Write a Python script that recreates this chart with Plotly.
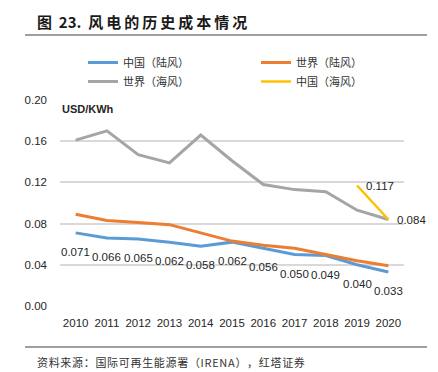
import plotly.graph_objects as go

years = [2010, 2011, 2012, 2013, 2014, 2015, 2016, 2017, 2018, 2019, 2020]
china_onshore = [0.071, 0.066, 0.065, 0.062, 0.058, 0.062, 0.056, 0.050, 0.049, 0.040, 0.033]
world_onshore = [0.089, 0.083, 0.081, 0.079, 0.071, 0.063, 0.059, 0.056, 0.050, 0.044, 0.039]
world_offshore = [0.161, 0.170, 0.147, 0.139, 0.166, 0.141, 0.118, 0.113, 0.111, 0.093, 0.084]
china_off_years = [2019, 2020]
china_offshore = [0.117, 0.084]

names = ["中国（陆风）", "世界（陆风）", "世界（海风）", "中国（海风）"]
colors = ["#5B9BD5", "#ED7D31", "#A5A5A5", "#FFC000"]
y_ticks = [0.00, 0.04, 0.08, 0.12, 0.16, 0.20]

title_prefix = "图\u00a0\u00a023.\u00a0\u00a0"
title_text = "风电的历史成本情况"
source_text = "资料来源：国际可再生能源署（IRENA），红塔证券"
unit_text = "USD/KWh"

NUM_FONT = "Liberation Sans, Arial, sans-serif"
CJK_FONT = "Noto Sans CJK SC, sans-serif"
LBL = 11.5

# the page body has an 8px margin; the figure is sized to fill the rest of the window
PAGE_OFF = 8
W, H = 438 - PAGE_OFF, 372 - PAGE_OFF
PLOT_L, PLOT_R, PLOT_T, PLOT_B = 60, 404, 100, 306  # page pixels

fig = go.Figure()
fig.add_trace(go.Scatter(x=years, y=china_onshore, name=names[0], mode="lines",
                         line=dict(color=colors[0], width=3)))
fig.add_trace(go.Scatter(x=years, y=world_onshore, name=names[1], mode="lines",
                         line=dict(color=colors[1], width=3)))
fig.add_trace(go.Scatter(x=years, y=world_offshore, name=names[2], mode="lines",
                         line=dict(color=colors[2], width=3)))
fig.add_trace(go.Scatter(x=china_off_years, y=china_offshore, name=names[3], mode="lines",
                         line=dict(color=colors[3], width=2.5)))

annotations = []
for x, v in zip(years, china_onshore):
    annotations.append(dict(x=x, y=v, xref="x", yref="y", text=f"{v:.3f}", showarrow=False,
                            yshift=-19, font=dict(family=NUM_FONT, size=LBL, color="#262626")))
for x, v in zip(china_off_years, china_offshore):
    annotations.append(dict(x=x, y=v, xref="x", yref="y", text=f"{v:.3f}", showarrow=False,
                            xanchor="left", xshift=7, yshift=-1,
                            font=dict(family=NUM_FONT, size=LBL, color="#262626")))

def px_x(p):
    return (p - PLOT_L) / float(PLOT_R - PLOT_L)

def px_y(p):
    return (PLOT_B - p) / float(PLOT_B - PLOT_T)

full_title = title_prefix + "\u2009".join(list(title_text))
annotations.append(dict(x=px_x(35), y=px_y(22), xref="paper", yref="paper", text="<b>" + full_title + "</b>",
                        showarrow=False, xanchor="left", yanchor="middle",
                        font=dict(family=CJK_FONT, size=15, color="#1a1a1a")))
annotations.append(dict(x=px_x(35), y=px_y(362), xref="paper", yref="paper", text="\u200a".join(list(source_text)),
                        showarrow=False, xanchor="left", yanchor="middle",
                        font=dict(family=CJK_FONT, size=11, color="#333333")))
annotations.append(dict(x=0, y=px_y(109), xref="paper", yref="paper", text="<b>" + unit_text + "</b>",
                        showarrow=False, xanchor="left", yanchor="middle",
                        font=dict(family=NUM_FONT, size=11, color="#262626")))

shapes = [
    dict(type="line", xref="paper", yref="paper", x0=px_x(25), x1=px_x(427), y0=px_y(35), y1=px_y(35),
         line=dict(color="#404040", width=1.2)),
    dict(type="line", xref="paper", yref="paper", x0=px_x(25), x1=px_x(427), y0=px_y(347), y1=px_y(347),
         line=dict(color="#404040", width=1.2)),
]

fig.update_layout(
    width=W, height=H,
    margin=dict(l=PLOT_L - PAGE_OFF, r=W - (PLOT_R - PAGE_OFF), t=PLOT_T - PAGE_OFF,
                b=H - (PLOT_B - PAGE_OFF), autoexpand=False),
    paper_bgcolor="white", plot_bgcolor="white",
    showlegend=True,
    legend=dict(orientation="h", x=px_x(83), y=px_y(48), xanchor="left", yanchor="top",
                entrywidth=128, entrywidthmode="pixels", traceorder="normal",
                font=dict(family=CJK_FONT, size=11, color="#333333"),
                bgcolor="rgba(0,0,0,0)", tracegroupgap=0),
    xaxis=dict(range=[2009.5, 2020.5], tickmode="array", tickvals=years, ticktext=[str(y) for y in years],
               showgrid=False, zeroline=False, showline=False, ticks="",
               tickfont=dict(family=NUM_FONT, size=LBL, color="#262626"), ticklabelstandoff=8),
    yaxis=dict(range=[0, 0.2], tickmode="array", tickvals=y_ticks, ticktext=[f"{v:.2f}" for v in y_ticks],
               showgrid=True, gridcolor="#d9d9d9", gridwidth=1.5, zeroline=False, showline=False, ticks="",
               tickfont=dict(family=NUM_FONT, size=LBL, color="#262626"), ticklabelstandoff=12),
    annotations=annotations,
    shapes=shapes,
)

fig.write_html("out.html")
